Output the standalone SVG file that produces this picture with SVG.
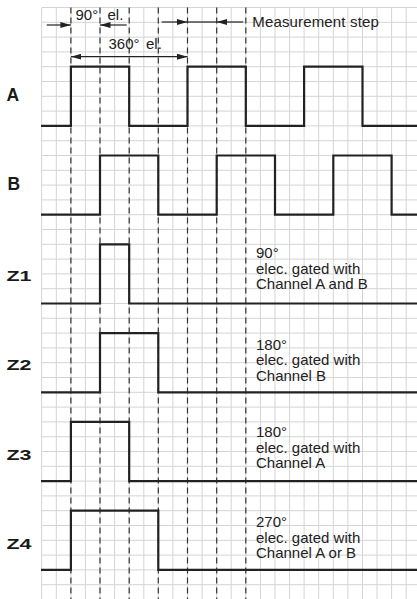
<svg xmlns="http://www.w3.org/2000/svg" width="417" height="599" viewBox="0 0 417 599">
<style>
.grid{fill:none;stroke:#d4d4d4;stroke-width:1}
.guide{fill:none;stroke:#333;stroke-width:1.2;stroke-dasharray:6 4}
.sig{fill:none;stroke:#222;stroke-width:2.2;stroke-linejoin:miter}
.dim{fill:none;stroke:#222;stroke-width:1.2}
.lbl{font-family:"Liberation Sans",Arial,sans-serif;font-weight:bold;font-size:17.5px;fill:#1a1a1a}
.zl{font-family:"Liberation Sans",Arial,sans-serif;font-weight:bold;font-size:15.5px;fill:#1a1a1a}
.txt{font-family:"Liberation Sans",Arial,sans-serif;font-size:15px;fill:#222}
</style>
<defs>
<marker id="ah" markerUnits="userSpaceOnUse" markerWidth="11" markerHeight="6" refX="10.5" refY="3" orient="auto-start-reverse">
<path d="M0,0 L10.5,3 L0,6 z" fill="#222"/>
</marker>
</defs>
<rect width="417" height="599" fill="#fff"/>
<g id="grid">
<path class="grid" d="M41.7,7.5H417M41.7,22.3H417M41.7,37.1H417M41.7,51.9H417M41.7,66.7H417M41.7,81.5H417M41.7,96.3H417M41.7,111.1H417M41.7,125.9H417M41.7,140.7H417M41.7,155.5H417M41.7,170.3H417M41.7,185.1H417M41.7,199.9H417M41.7,214.7H417M41.7,229.5H417M41.7,244.3H417M41.7,259.1H417M41.7,273.9H417M41.7,288.7H417M41.7,303.5H417M41.7,318.3H417M41.7,333.1H417M41.7,347.9H417M41.7,362.7H417M41.7,377.5H417M41.7,392.3H417M41.7,407.1H417M41.7,421.9H417M41.7,436.7H417M41.7,451.5H417M41.7,466.3H417M41.7,481.1H417M41.7,495.9H417M41.7,510.7H417M41.7,525.5H417M41.7,540.3H417M41.7,555.1H417M41.7,569.9H417M41.7,584.7H417"/>
<path class="grid" d="M41.7,7.5V599M56.3,7.5V599M70.9,7.5V599M85.4,7.5V599M100,7.5V599M114.6,7.5V599M129.2,7.5V599M143.8,7.5V599M158.3,7.5V599M172.9,7.5V599M187.5,7.5V599M202.1,7.5V599M216.7,7.5V599M231.2,7.5V599M245.8,7.5V599M260.4,7.5V599M275,7.5V599M289.6,7.5V599M304.1,7.5V599M318.7,7.5V599M333.3,7.5V599M347.9,7.5V599M362.5,7.5V599M377,7.5V599M391.6,7.5V599M406.2,7.5V599"/>
</g>
<g id="guides">
<path class="guide" d="M70.9,7.5V599M100,7.5V599M129.2,7.5V599M158.3,7.5V599M187.5,7.5V599M216.7,7.5V599M245.8,7.5V599"/>
</g>
<g id="signal-A">
<text class="lbl" x="6.5" y="100.7">A</text>
<path class="sig" d="M41,125.9H70.9V66.7H129.2V125.9H187.5V66.7H245.8V125.9H304.1V66.7H362.5V125.9H417"/>
</g>
<g id="signal-B">
<text class="lbl" x="7.5" y="190">B</text>
<path class="sig" d="M41,214.7H100V155.5H158.3V214.7H216.7V155.5H275V214.7H333.3V155.5H391.6V214.7H417"/>
</g>
<g id="signal-Z1">
<text class="zl" x="6.5" y="280.5" textLength="25" lengthAdjust="spacingAndGlyphs">Z1</text>
<path class="sig" d="M41,303.5H100V244.3H129.2V303.5H417"/>
<text class="txt" x="256" y="258"><tspan x="256">90°</tspan><tspan x="256" dy="15.7">elec. gated with</tspan><tspan x="256" dy="15.7">Channel A and B</tspan></text>
</g>
<g id="signal-Z2">
<text class="zl" x="6.5" y="370" textLength="25" lengthAdjust="spacingAndGlyphs">Z2</text>
<path class="sig" d="M41,392.3H100V333.1H158.3V392.3H417"/>
<text class="txt" x="256" y="350"><tspan x="256">180°</tspan><tspan x="256" dy="15.4">elec. gated with</tspan><tspan x="256" dy="15.4">Channel B</tspan></text>
</g>
<g id="signal-Z3">
<text class="zl" x="6.5" y="459.5" textLength="25" lengthAdjust="spacingAndGlyphs">Z3</text>
<path class="sig" d="M41,481.1H70.9V421.9H129.2V481.1H417"/>
<text class="txt" x="256" y="437"><tspan x="256">180°</tspan><tspan x="256" dy="15.7">elec. gated with</tspan><tspan x="256" dy="15.7">Channel A</tspan></text>
</g>
<g id="signal-Z4">
<text class="zl" x="6.5" y="549" textLength="25" lengthAdjust="spacingAndGlyphs">Z4</text>
<path class="sig" d="M41,569.9H70.9V510.7H158.3V569.9H417"/>
<text class="txt" x="256" y="527"><tspan x="256">270°</tspan><tspan x="256" dy="15.7">elec. gated with</tspan><tspan x="256" dy="15.7">Channel A or B</tspan></text>
</g>
<g id="connectors">
<path class="dim" d="M46.7,25H70.9" marker-end="url(#ah)"/>
<path class="dim" d="M126.7,25H100" marker-end="url(#ah)"/>
<text class="txt" y="20"><tspan x="75.5">90°</tspan> <tspan x="107.5">el.</tspan></text>
<path class="dim" d="M70.9,56.7H187.5" marker-start="url(#ah)" marker-end="url(#ah)"/>
<text class="txt" y="49.3"><tspan x="108.5">360°</tspan> <tspan x="146">el.</tspan></text>
<path class="dim" d="M161.7,22H187.5" marker-end="url(#ah)"/>
<path class="dim" d="M243.3,22H216.7" marker-end="url(#ah)"/>
<path class="dim" d="M187.5,22H216.7"/>
<text class="txt" x="252.3" y="27.3" textLength="126.5" lengthAdjust="spacing">Measurement step</text>
</g>
</svg>
